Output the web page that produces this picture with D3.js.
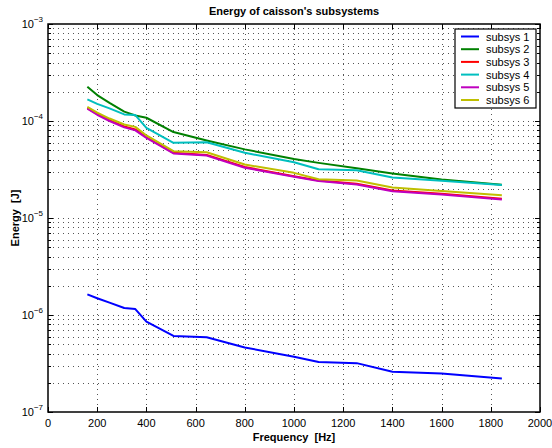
<!DOCTYPE html>
<html>
<head>
<meta charset="utf-8">
<script src="https://cdn.jsdelivr.net/npm/d3@7"></script>
<style>
  body { margin: 0; background: #fff; }
  text { font-family: "Liberation Sans", Arial, sans-serif; }
</style>
</head>
<body>
<svg id="drawing_region"></svg>
<script>
// frequencies [Hz] and energy per subsystem [J]
const freq = [160, 200, 250, 310, 355, 400, 510, 645, 800, 1000, 1100, 1255, 1400, 1600, 1845];

const subsys1 = [1.63e-6, 1.49e-6, 1.34e-6, 1.18e-6, 1.15e-6, 8.55e-7, 6.08e-7, 5.9e-7, 4.62e-7, 3.72e-7, 3.27e-7, 3.19e-7, 2.6e-7, 2.5e-7, 2.22e-7];
const subsys2 = [2.25e-4, 1.85e-4, 1.54e-4, 1.25e-4, 1.14e-4, 1.08e-4, 7.7e-5, 6.3e-5, 5.1e-5, 4.05e-5, 3.7e-5, 3.25e-5, 2.88e-5, 2.5e-5, 2.2e-5];
const subsys3 = [1.36e-4, 1.18e-4, 1.02e-4, 8.8e-5, 8.2e-5, 6.8e-5, 4.7e-5, 4.47e-5, 3.35e-5, 2.7e-5, 2.44e-5, 2.26e-5, 1.92e-5, 1.78e-5, 1.58e-5];
const subsys4 = [1.67e-4, 1.5e-4, 1.35e-4, 1.17e-4, 1.15e-4, 8.5e-5, 5.96e-5, 6.05e-5, 4.7e-5, 3.75e-5, 3.18e-5, 3.11e-5, 2.61e-5, 2.42e-5, 2.19e-5];
const subsys5 = [1.34e-4, 1.16e-4, 1.0e-4, 8.6e-5, 8.0e-5, 6.7e-5, 4.63e-5, 4.4e-5, 3.3e-5, 2.66e-5, 2.4e-5, 2.22e-5, 1.89e-5, 1.75e-5, 1.55e-5];
const subsys6 = [1.4e-4, 1.22e-4, 1.06e-4, 9.2e-5, 8.7e-5, 7.1e-5, 4.89e-5, 4.77e-5, 3.56e-5, 2.92e-5, 2.51e-5, 2.44e-5, 2.06e-5, 1.9e-5, 1.72e-5];

const seriesNames = ["subsys 1", "subsys 2", "subsys 3", "subsys 4", "subsys 5", "subsys 6"];
const seriesColors = ["#0000ff", "#008000", "#ff0000", "#00bfbf", "#bf00bf", "#bfbf00"];

const xTicks = [0, 200, 400, 600, 800, 1000, 1200, 1400, 1600, 1800, 2000];
const yDecades = [-7, -6, -5, -4, -3];

class LogLineChart {

    constructor( config, data ) {
        this.config = {
            parent: config.parent,
            width: config.width || 552,
            height: config.height || 448,
            margin: config.margin || {top:24, right:12, bottom:36, left:48}
        };
        this.data = data;
        this.init();
    }

    init() {
        let self = this;

        self.svg = d3.select( self.config.parent )
            .attr('width', self.config.width)
            .attr('height', self.config.height);

        self.inner_width = self.config.width - self.config.margin.left - self.config.margin.right;
        self.inner_height = self.config.height - self.config.margin.top - self.config.margin.bottom;

        self.chart = self.svg.append('g')
            .attr('transform', `translate(${self.config.margin.left}, ${self.config.margin.top})`);

        self.xscale = d3.scaleLinear()
            .domain([0, 2000])
            .range([0, self.inner_width]);

        self.yscale = d3.scaleLog()
            .domain([1e-7, 1e-3])
            .range([self.inner_height, 0]);

        self.line = d3.line()
            .x( d => self.xscale(d.f) )
            .y( d => self.yscale(d.v) );
    }

    render() {
        let self = this;
        const w = self.inner_width, h = self.inner_height;

        // minor + major y values (log grid)
        let yGrid = [];
        yDecades.slice(0, -1).forEach( e => {
            for (let k = 1; k <= 9; k++) yGrid.push(k * Math.pow(10, e));
        });
        yGrid.push(1e-3);

        const grid = self.chart.append('g')
            .attr('stroke', '#555')
            .attr('stroke-width', 1)
            .attr('stroke-dasharray', '1,4')
            .attr('shape-rendering', 'crispEdges');

        grid.selectAll('.hgrid')
            .data(yGrid.filter(v => v > 1e-7 && v < 1e-3))
            .join('line')
            .attr('x1', 0).attr('x2', w)
            .attr('y1', d => Math.round(self.yscale(d)) + 0.5)
            .attr('y2', d => Math.round(self.yscale(d)) + 0.5);

        grid.selectAll('.vgrid')
            .data(xTicks.slice(1, -1))
            .join('line')
            .attr('y1', 0).attr('y2', h)
            .attr('x1', d => Math.round(self.xscale(d)) + 0.5)
            .attr('x2', d => Math.round(self.xscale(d)) + 0.5);

        // series
        self.chart.selectAll('.series')
            .data(self.data)
            .join('path')
            .attr('fill', 'none')
            .attr('stroke', d => d.color)
            .attr('stroke-width', 2)
            .attr('stroke-linejoin', 'round')
            .attr('d', d => self.line(d.values));

        // ticks on all four sides, pointing inward
        const ticks = self.chart.append('g')
            .attr('stroke', '#000')
            .attr('stroke-width', 1)
            .attr('shape-rendering', 'crispEdges');

        xTicks.forEach( t => {
            const x = Math.round(self.xscale(t)) + 0.5;
            ticks.append('line').attr('x1', x).attr('x2', x).attr('y1', h).attr('y2', h - 5);
            ticks.append('line').attr('x1', x).attr('x2', x).attr('y1', 0).attr('y2', 5);
        });
        yGrid.forEach( v => {
            const y = Math.round(self.yscale(v)) + 0.5;
            const len = (Math.abs(Math.log10(v) - Math.round(Math.log10(v))) < 1e-9) ? 5 : 3;
            ticks.append('line').attr('x1', 0).attr('x2', len).attr('y1', y).attr('y2', y);
            ticks.append('line').attr('x1', w).attr('x2', w - len).attr('y1', y).attr('y2', y);
        });

        // axes box
        self.chart.append('rect')
            .attr('x', 0).attr('y', 0)
            .attr('width', w).attr('height', h)
            .attr('fill', 'none')
            .attr('stroke', '#000')
            .attr('stroke-width', 1.5);

        // x tick labels
        self.chart.selectAll('.xlab')
            .data(xTicks)
            .join('text')
            .attr('x', d => self.xscale(d))
            .attr('y', h + 15)
            .attr('text-anchor', 'middle')
            .attr('font-size', '11px')
            .text(d => d);

        // y tick labels 10^e
        yDecades.forEach( e => {
            const t = self.chart.append('text')
                .attr('x', -5)
                .attr('y', self.yscale(Math.pow(10, e)) + 4)
                .attr('text-anchor', 'end')
                .attr('font-size', '11px');
            t.append('tspan').text('10');
            t.append('tspan').attr('dy', -6).attr('font-size', '8px').text('\u2212' + (-e));
        });

        // titles
        self.svg.append('text')
            .attr('x', self.config.margin.left + w / 2)
            .attr('y', 15)
            .attr('text-anchor', 'middle')
            .attr('font-size', '11px')
            .attr('font-weight', 'bold')
            .text("Energy of caisson's subsystems");

        self.svg.append('text')
            .attr('x', self.config.margin.left + w / 2)
            .attr('y', self.config.margin.top + h + 29)
            .attr('text-anchor', 'middle')
            .attr('font-size', '11px')
            .attr('font-weight', 'bold')
            .attr('xml:space', 'preserve')
            .text("Frequency  [Hz]");

        self.svg.append('text')
            .attr('transform', `translate(19, ${self.config.margin.top + h / 2}) rotate(-90)`)
            .attr('text-anchor', 'middle')
            .attr('font-size', '11px')
            .attr('font-weight', 'bold')
            .attr('xml:space', 'preserve')
            .text("Energy  [J]");

        // legend
        const lg = self.chart.append('g')
            .attr('transform', `translate(${w - 85}, 5)`);
        lg.append('rect')
            .attr('width', 81).attr('height', 79)
            .attr('fill', '#fff')
            .attr('stroke', '#000')
            .attr('stroke-width', 1.2);
        self.data.forEach( (d, i) => {
            const y = 7.5 + i * 12.7;
            lg.append('line')
                .attr('x1', 6).attr('x2', 24)
                .attr('y1', y).attr('y2', y)
                .attr('stroke', d.color)
                .attr('stroke-width', 2);
            lg.append('text')
                .attr('x', 31)
                .attr('y', y + 4)
                .attr('font-size', '11px')
                .text(d.name);
        });
    }
}

const allValues = [subsys1, subsys2, subsys3, subsys4, subsys5, subsys6];
const data = allValues.map( (vals, i) => ({
    name: seriesNames[i],
    color: seriesColors[i],
    values: vals.map( (v, j) => ({ f: freq[j], v: v }) )
}));

const config = {
    parent: '#drawing_region',
    width: 552,
    height: 448,
    margin: {top:24, right:12, bottom:36, left:48}
};

const chart = new LogLineChart( config, data );
chart.render();
</script>
</body>
</html>
